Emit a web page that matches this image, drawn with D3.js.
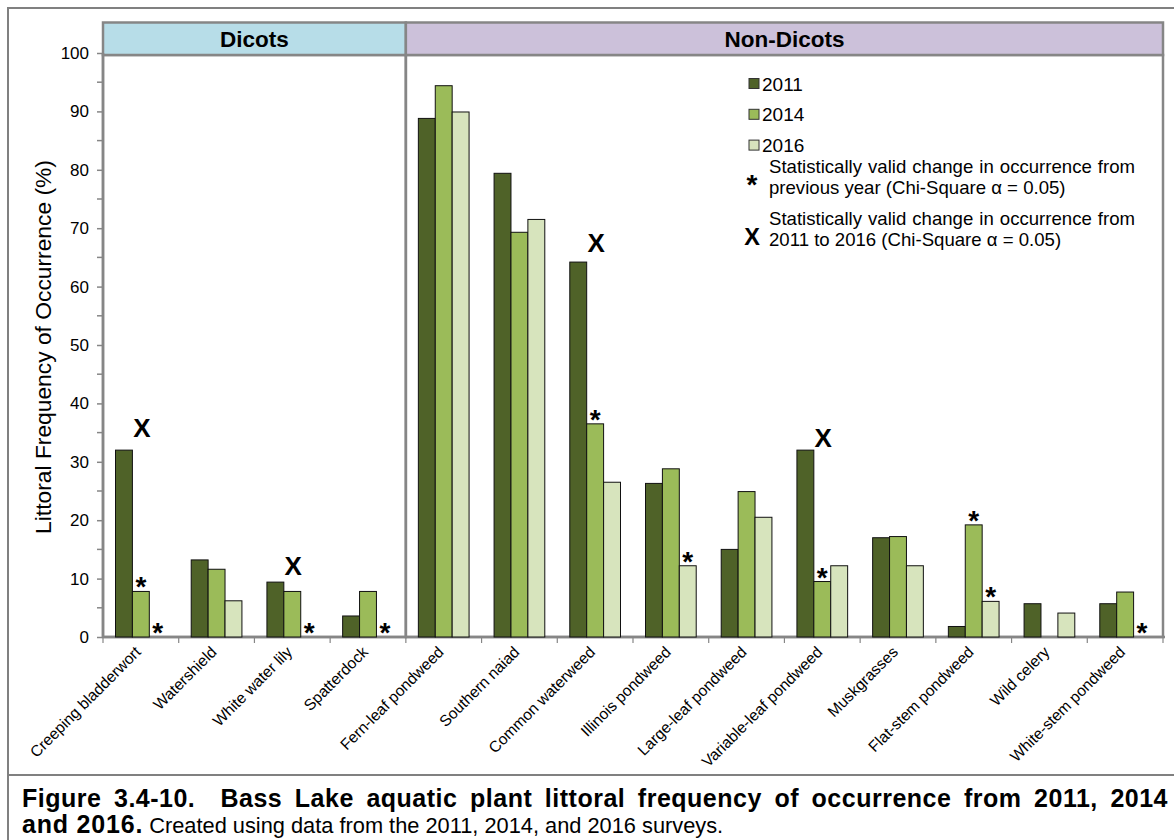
<!DOCTYPE html>
<html>
<head>
<meta charset="utf-8">
<script src="https://cdn.jsdelivr.net/npm/d3@7"></script>
<style>
  body { margin: 0; background: #fff; }
  svg { font-family: Arial, "Liberation Sans", sans-serif; }
  text { white-space: pre; }
</style>
</head>
<body>
<svg id="chart" width="1174" height="840"></svg>
<script>
// species, split into the two groups
const dicots = ['Creeping bladderwort', 'Watershield', 'White water lily', 'Spatterdock']
const nonDicots = ['Fern-leaf pondweed', 'Southern naiad', 'Common waterweed', 'Illinois pondweed',
  'Large-leaf pondweed', 'Variable-leaf pondweed', 'Muskgrasses', 'Flat-stem pondweed',
  'Wild celery', 'White-stem pondweed']
const species = dicots.concat(nonDicots)

const years = ['2011', '2014', '2016']
const values2011 = [32.0, 13.2, 9.4, 3.6, 88.8, 79.4, 64.2, 26.3, 15.0, 32.0, 17.0, 1.8, 5.7, 5.7]
const values2014 = [7.8, 11.6, 7.8, 7.8, 94.4, 69.3, 36.5, 28.8, 24.9, 9.5, 17.2, 19.2, 0, 7.7]
const values2016 = [0, 6.2, 0, 0, 89.9, 71.5, 26.5, 12.2, 20.5, 12.2, 12.2, 6.1, 4.1, 0]
const yTicks = [0, 10, 20, 30, 40, 50, 60, 70, 80, 90, 100]

// '*' = change from previous year, 'X' = change 2011 to 2016
const starMarks = [
  { species: 'Creeping bladderwort', year: '2014' },
  { species: 'Creeping bladderwort', year: '2016' },
  { species: 'White water lily', year: '2016' },
  { species: 'Spatterdock', year: '2016' },
  { species: 'Common waterweed', year: '2014' },
  { species: 'Illinois pondweed', year: '2016' },
  { species: 'Variable-leaf pondweed', year: '2014' },
  { species: 'Flat-stem pondweed', year: '2014' },
  { species: 'Flat-stem pondweed', year: '2016' },
  { species: 'White-stem pondweed', year: '2016' }
]
const xMarks = [
  { species: 'Creeping bladderwort', at: 35.8 },
  { species: 'White water lily', at: 12.2 },
  { species: 'Common waterweed', at: 67.6 },
  { species: 'Variable-leaf pondweed', at: 34.2 }
]

const colors = { 2011: '#4f6228', 2014: '#9bbb59', 2016: '#d7e4bd' }
const seriesValues = { 2011: values2011, 2014: values2014, 2016: values2016 }

const svg = d3.select('#chart')

// stretch the gaps between words so a line fills the given width
function justify (sel, width) {
  const node = sel.node()
  const natural = node.getComputedTextLength()
  const gaps = (sel.text().match(/ /g) || []).length
  if (gaps > 0) sel.attr('word-spacing', (width - natural) / gaps)
}

// outer frame of the figure
svg.append('line').attr('x1', 7).attr('x2', 1174).attr('y1', 8).attr('y2', 8)
  .attr('stroke', '#808080').attr('stroke-width', 2)
svg.append('line').attr('x1', 8).attr('x2', 8).attr('y1', 7).attr('y2', 840)
  .attr('stroke', '#808080').attr('stroke-width', 2)
svg.append('line').attr('x1', 7).attr('x2', 1174).attr('y1', 775).attr('y2', 775)
  .attr('stroke', '#808080').attr('stroke-width', 2)

const plotLeft = 103
const plotRight = 1163
const plotTop = 53
const plotBottom = 637

const x = d3.scaleBand().domain(species).range([plotLeft, plotRight]).paddingInner(0).paddingOuter(0)
const xYear = d3.scaleBand().domain(years).range([12.5, x.bandwidth() - 12.5])
const y = d3.scaleLinear().domain([0, 100]).range([plotBottom, plotTop])

// panel boxes and headers
const panels = [
  { name: 'Dicots', list: dicots, fill: '#b7dde8' },
  { name: 'Non-Dicots', list: nonDicots, fill: '#ccc1da' }
]
panels.forEach(p => {
  const x0 = x(p.list[0])
  const x1 = x(p.list[p.list.length - 1]) + x.bandwidth()
  svg.append('rect')
    .attr('x', x0).attr('y', 55)
    .attr('width', x1 - x0).attr('height', plotBottom - 55)
    .attr('fill', 'none').attr('stroke', '#868686').attr('stroke-width', 2.5)
  svg.append('rect')
    .attr('x', x0).attr('y', 22.5)
    .attr('width', x1 - x0).attr('height', 32.5)
    .attr('fill', p.fill).attr('stroke', '#868686').attr('stroke-width', 2.5)
  svg.append('text')
    .attr('x', (x0 + x1) / 2).attr('y', 47)
    .attr('text-anchor', 'middle')
    .attr('font-size', '22.5px').attr('font-weight', 'bold')
    .text(p.name)
})

// y axis
const yAxis = svg.append('g').attr('transform', `translate(${plotLeft},0)`)
  .call(d3.axisLeft(y).tickValues(yTicks).tickSize(6).tickPadding(8))
yAxis.select('.domain').remove()
yAxis.selectAll('line').attr('stroke', '#868686').attr('stroke-width', 1.5)
yAxis.selectAll('text').attr('font-size', '17px').attr('fill', '#000')
  .attr('font-family', 'Arial, "Liberation Sans", sans-serif')
svg.append('g').attr('transform', `translate(${plotLeft},0)`)
  .selectAll('line').data(yTicks.slice(0, -1).map(d => d + 5))
  .join('line')
  .attr('x1', -6).attr('x2', 0)
  .attr('y1', d => y(d)).attr('y2', d => y(d))
  .attr('stroke', '#868686').attr('stroke-width', 1.5)
svg.append('line').attr('x1', plotLeft).attr('x2', plotLeft).attr('y1', plotTop).attr('y2', plotBottom)
  .attr('stroke', '#868686').attr('stroke-width', 2.5)

svg.append('text')
  .attr('transform', `translate(51,${(plotTop + plotBottom) / 2 + 2}) rotate(-90)`)
  .attr('text-anchor', 'middle')
  .attr('font-size', '22.8px')
  .text('Littoral Frequency of Occurrence (%)')

// x axis with category ticks
const xAxis = svg.append('g').attr('transform', `translate(0,${plotBottom})`)
xAxis.append('line').attr('x1', plotLeft).attr('x2', plotRight + 2).attr('y1', 0).attr('y2', 0)
  .attr('stroke', '#868686').attr('stroke-width', 2.5)
xAxis.selectAll('.tick').data(species.concat(['end']))
  .join('line')
  .attr('x1', (d, i) => plotLeft + i * x.bandwidth())
  .attr('x2', (d, i) => plotLeft + i * x.bandwidth())
  .attr('y1', 0).attr('y2', 6)
  .attr('stroke', '#868686').attr('stroke-width', 1.2)
xAxis.selectAll('.label').data(species)
  .join('text')
  .attr('transform', d => `translate(${x(d) + x.bandwidth() / 2 + 1},${16}) rotate(-45)`)
  .attr('text-anchor', 'end')
  .attr('font-size', '15.6px')
  .text(d => d)

// bars
const barData = []
species.forEach((s, i) => {
  years.forEach(yr => barData.push({ species: s, year: yr, value: seriesValues[yr][i] }))
})
svg.append('g').selectAll('rect')
  .data(barData.filter(d => d.value > 0))
  .join('rect')
  .attr('x', d => x(d.species) + xYear(d.year))
  .attr('y', d => y(d.value))
  .attr('width', xYear.bandwidth())
  .attr('height', d => y(0) - y(d.value))
  .attr('fill', d => colors[d.year])
  .attr('stroke', '#111').attr('stroke-width', 1)

// asterisks
svg.append('g').selectAll('text')
  .data(starMarks)
  .join('text')
  .attr('x', d => x(d.species) + xYear(d.year) + xYear.bandwidth() / 2)
  .attr('y', d => y(seriesValues[d.year][species.indexOf(d.species)]) + 5)
  .attr('text-anchor', 'middle')
  .attr('font-size', '28px').attr('font-weight', 'bold')
  .text('*')

// X marks
svg.append('g').selectAll('text')
  .data(xMarks)
  .join('text')
  .attr('x', d => x(d.species) + x.bandwidth() / 2 + 1)
  .attr('y', d => y(d.at) + 9.5)
  .attr('text-anchor', 'middle')
  .attr('font-size', '26px').attr('font-weight', 'bold')
  .text('X')

// legend
const legend = svg.append('g').attr('transform', 'translate(750,0)')
years.forEach((yr, i) => {
  const ly = 83.5 + i * 30.8
  legend.append('rect')
    .attr('x', -1).attr('y', ly - 5).attr('width', 10).attr('height', 10)
    .attr('fill', colors[yr]).attr('stroke', '#333').attr('stroke-width', 1)
  legend.append('text')
    .attr('x', 12).attr('y', ly + 7)
    .attr('font-size', '19px')
    .text(yr)
})
const notes = [
  { sym: '*', symSize: 28, symY: 194, lines: ['Statistically valid change in occurrence from', 'previous year (Chi-Square \u03b1 = 0.05)'], y0: 173 },
  { sym: 'X', symSize: 23.5, symY: 245, lines: ['Statistically valid change in occurrence from', '2011 to 2016 (Chi-Square \u03b1 = 0.05)'], y0: 225 }
]
notes.forEach(n => {
  legend.append('text')
    .attr('x', 2).attr('y', n.symY)
    .attr('text-anchor', 'middle')
    .attr('font-size', n.symSize + 'px').attr('font-weight', 'bold')
    .text(n.sym)
  n.lines.forEach((t, j) => {
    const line = legend.append('text')
      .attr('x', 19).attr('y', n.y0 + j * 20.5)
      .attr('font-size', '18.6px')
      .text(t)
    if (j === 0) justify(line, 366)
  })
})

// caption
const cap1 = svg.append('text')
  .attr('x', 22).attr('y', 807)
  .attr('font-size', '25px').attr('font-weight', 'bold')
  .attr('letter-spacing', 0.5)
  .text('Figure 3.4-10.  Bass Lake aquatic plant littoral frequency of occurrence from 2011, 2014')
justify(cap1, 1146)
const cap2 = svg.append('text')
  .attr('x', 22).attr('y', 833)
cap2.append('tspan').attr('font-size', '25px').attr('font-weight', 'bold')
  .attr('letter-spacing', 0.8).text('and 2016.')
cap2.append('tspan').attr('font-size', '21.8px').text(' Created using data from the 2011, 2014, and 2016 surveys.')
</script>
</body>
</html>
